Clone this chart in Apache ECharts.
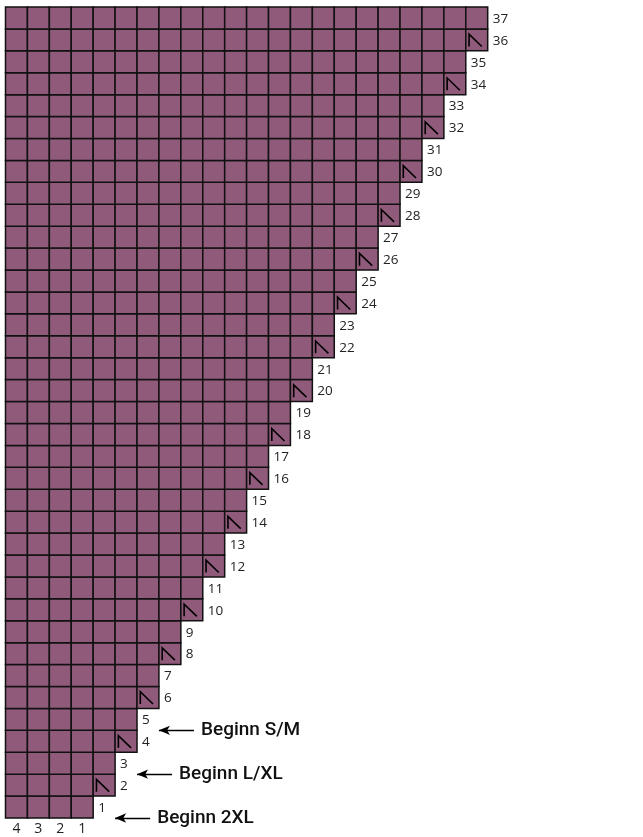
<!DOCTYPE html>
<html><head><meta charset="utf-8">
<script src="https://cdn.jsdelivr.net/npm/echarts@6/dist/echarts.min.js"></script>
<style>html,body{margin:0;padding:0;background:#fff}#c{width:643px;height:837px}</style>
</head><body><div id="c"></div>
<script>
// ---- data ----
const rowNumbers = [1,2,3,4,5,6,7,8,9,10,11,12,13,14,15,16,17,18,19,20,21,22,23,24,25,26,27,28,29,30,31,32,33,34,35,36,37];
const rowStitchCounts = [4,5,5,6,6,7,7,8,8,9,9,10,10,11,11,12,12,13,13,14,14,15,15,16,16,17,17,18,18,19,19,20,20,21,21,22,22];
const decreaseRows = [2,4,6,8,10,12,14,16,18,20,22,24,26,28,30,32,34,36];
const columnTickLabels = ['4','3','2','1'];
const noteRows = [5,3,1];
const noteTexts = ['Beginn S/M','Beginn L/XL','Beginn 2XL'];
const totalColumns = 22;
const totalRows = 37;

// ---- build ----
const cellData = [];
const rowLabelData = [];
rowNumbers.forEach((r, i) => {
  const n = rowStitchCounts[i];
  for (let c = 0; c < n; c++) {
    const dec = (c === n - 1 && decreaseRows.indexOf(r) >= 0) ? 1 : 0;
    cellData.push([c, r, dec]);
  }
  rowLabelData.push([n, r, r]);
});
const xCats = [];
for (let i = 0; i < totalColumns; i++) xCats.push(i < columnTickLabels.length ? columnTickLabels[i] : '');

const arrowData = noteRows.map((row, i) => {
  const n = rowStitchCounts[row - 1];
  const y = row - 1;
  return [
    { coord: [n + 1, y], label: { formatter: noteTexts[i] } },
    { coord: [n + 2.6, y] }
  ];
});

const chart = echarts.init(document.getElementById('c'), null, { renderer: 'canvas' });
chart.setOption({
  animation: false,
  backgroundColor: '#ffffff',
  grid: { left: 5.5, top: 7, width: 482.2, height: 811, containLabel: false, outerBoundsMode: 'none' },
  xAxis: [
    { type: 'value', min: 0, max: totalColumns, interval: 1, show: false },
    { type: 'category', data: xCats, position: 'bottom', boundaryGap: true,
      axisLine: { show: false }, axisTick: { show: false }, splitLine: { show: false },
      axisLabel: { interval: 0, margin: 4, fontSize: 14, color: '#222', fontFamily: 'Open Sans' } }
  ],
  yAxis: { type: 'value', min: 0, max: totalRows, interval: 1, show: false },
  series: [
    {
      type: 'custom', xAxisIndex: 0, yAxisIndex: 0, data: cellData, silent: true,
      renderItem: function (params, api) {
        const c = api.value(0), r = api.value(1), dec = api.value(2);
        const p0 = api.coord([c, r]);
        const p1 = api.coord([c + 1, r - 1]);
        const w = p1[0] - p0[0], h = p1[1] - p0[1];
        const children = [{
          type: 'rect', shape: { x: p0[0], y: p0[1], width: w, height: h },
          style: { fill: '#905A7A', stroke: '#111', lineWidth: 1.5 }
        }];
        if (dec) {
          children.push({
            type: 'polyline',
            shape: { points: [[p0[0] + 0.15 * w, p0[1] + 0.80 * h], [p0[0] + 0.15 * w, p0[1] + 0.24 * h], [p0[0] + 0.73 * w, p0[1] + 0.80 * h]] },
            style: { fill: null, stroke: '#000', lineWidth: 1.6 }
          });
        }
        return { type: 'group', children: children };
      }
    },
    {
      type: 'custom', xAxisIndex: 0, yAxisIndex: 0, data: rowLabelData, silent: true, clip: false,
      renderItem: function (params, api) {
        const p = api.coord([api.value(0), api.value(1) - 0.5]);
        return {
          type: 'text', x: p[0] + 5, y: p[1] + 1,
          style: { text: String(api.value(2)), align: 'left', verticalAlign: 'middle',
                   fontSize: 13.5, fontFamily: 'Open Sans', fill: '#222' }
        };
      }
    },
    {
      type: 'line', xAxisIndex: 0, yAxisIndex: 0, data: [], symbol: 'none', clip: false, silent: true,
      lineStyle: { opacity: 0 },
      markLine: {
        silent: true, animation: false,
        symbol: ['arrow', 'none'], symbolSize: [7, 11],
        lineStyle: { type: 'solid', color: '#000', width: 1.3 },
        label: { show: true, position: 'end', distance: 7, padding: [6, 0, 0, 0],
                 fontSize: 19, fontWeight: 500, fontFamily: 'Roboto', color: '#111' },
        data: arrowData
      }
    }
  ]
});
</script></body></html>
